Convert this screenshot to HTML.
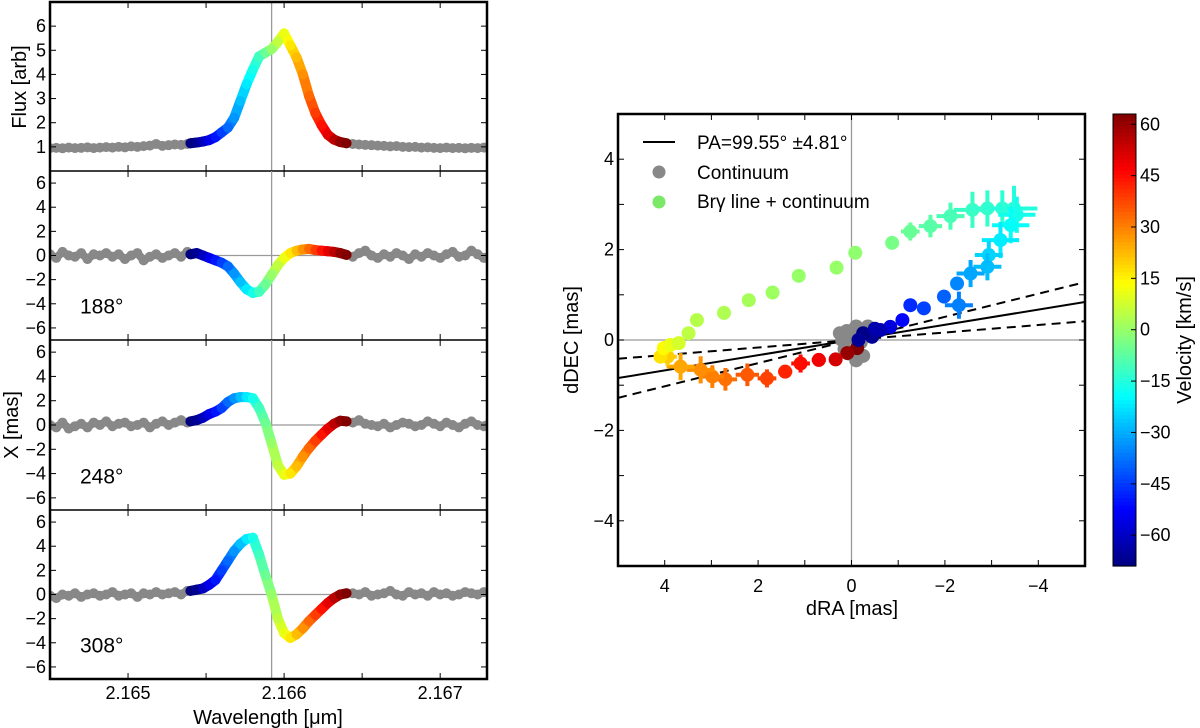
<!DOCTYPE html>
<html><head><meta charset="utf-8">
<style>
html,body{margin:0;padding:0;background:#fff;}
svg{display:block;font-family:"Liberation Sans",Arial,sans-serif;}
</style></head>
<body>
<svg id="fig" width="1200" height="728" viewBox="0 0 1200 728" xmlns="http://www.w3.org/2000/svg">
<g id="marks"></g>
</svg>
<script>
// ---------- data ----------
const lineStart = 2.16540, lineStep = 0.00004;
const fluxLine = [1.15,1.18,1.22,1.28,1.4,1.6,1.8,2.2,2.9,3.6,4.2,4.75,4.9,5.05,5.35,5.7,5.2,4.7,4.0,3.1,2.4,1.9,1.5,1.3,1.2,1.15];
const x188Line = [0.1,0.2,0.0,-0.2,-0.4,-0.6,-0.9,-1.5,-2.2,-2.8,-3.1,-3.0,-2.4,-1.6,-0.8,-0.2,0.2,0.4,0.5,0.55,0.45,0.4,0.35,0.3,0.2,0.05];
const x248Line = [0.3,0.4,0.6,0.9,1.1,1.4,1.9,2.2,2.3,2.3,2.2,1.4,0.2,-1.5,-3.3,-4.1,-4.0,-3.4,-2.6,-1.9,-1.3,-0.8,-0.3,0.1,0.35,0.3];
const x308Line = [0.3,0.4,0.5,0.8,1.2,2.0,2.8,3.6,4.2,4.6,4.7,3.3,1.6,0.0,-2.0,-3.2,-3.6,-3.3,-2.8,-2.2,-1.7,-1.2,-0.7,-0.3,0.0,0.1];
const contLeftStart = 2.16450, contRightStart = 2.16644;
const fluxContL = [0.95,0.96,0.94,0.97,0.95,0.96,0.98,0.95,0.97,0.99,0.97,1.0,0.98,1.02,1.0,1.03,1.05,1.12,1.04,1.07,1.1,1.08,1.12];
const fluxContR = [1.12,1.1,1.08,1.07,1.05,1.04,1.02,1.03,1.0,0.99,1.0,0.97,0.98,0.96,0.95,0.97,0.95,0.96,0.94,0.96,0.95,0.97,0.96];
const x188ContL = [0.1,-0.2,0.3,0.0,-0.1,0.2,-0.3,0.1,0.0,0.2,-0.1,0.1,-0.3,0.0,0.2,-0.4,-0.1,0.1,-0.2,0.0,0.2,-0.1,0.3];
const x188ContR = [-0.1,0.2,0.4,0.0,-0.2,0.1,-0.1,0.2,0.0,-0.3,0.1,-0.1,0.2,0.0,-0.2,0.1,0.3,-0.1,0.0,0.4,0.1,-0.2,0.0];
const x248ContL = [0.0,-0.2,0.2,-0.3,-0.1,0.1,-0.2,0.2,0.0,0.3,-0.1,0.1,0.2,-0.1,0.0,0.2,-0.2,0.1,0.3,0.0,0.2,0.4,0.2];
const x248ContR = [0.2,0.4,0.1,0.0,-0.1,0.1,-0.2,0.0,0.2,0.1,-0.1,0.0,0.3,0.1,-0.1,0.2,0.0,-0.2,0.1,0.3,0.0,-0.1,0.2];
const x308ContL = [-0.1,-0.3,0.0,-0.1,0.1,-0.2,0.0,0.1,-0.1,0.0,0.2,-0.1,0.0,0.1,-0.2,0.1,0.0,0.2,0.0,0.1,0.2,0.0,0.3];
const x308ContR = [0.1,0.0,0.2,-0.1,0.0,0.1,0.3,0.0,-0.1,0.2,0.0,0.1,-0.1,0.2,0.0,0.1,-0.1,0.0,0.2,0.1,0.0,0.2,0.1];
const panelLabels = ["188\u00b0","248\u00b0","308\u00b0"];
const wlTicks = [2.165,2.166,2.167];
// right panel
const spRA  = [-0.12,0.09,0.34,0.70,1.09,1.42,1.81,2.23,2.70,2.98,3.23,3.66,3.94,4.09,4.02,3.88,3.70,3.49,3.31,2.73,2.20,1.69,1.13,0.32,-0.08,-0.87,-1.26,-1.69,-2.12,-2.59,-2.91,-3.23,-3.48,-3.54,-3.41,-3.19,-2.94,-2.91,-2.55,-2.26,-1.98,-2.30,-1.55,-1.26,-1.09,-0.83,-0.62,-0.44,-0.25,-0.5,-0.15];
const spDEC = [-0.18,-0.29,-0.43,-0.44,-0.52,-0.70,-0.85,-0.77,-0.87,-0.81,-0.66,-0.59,-0.37,-0.37,-0.18,-0.11,-0.07,0.15,0.44,0.60,0.88,1.05,1.42,1.60,1.93,2.15,2.40,2.52,2.74,2.88,2.91,2.91,2.91,2.77,2.54,2.21,1.88,1.62,1.47,1.25,0.96,0.77,0.70,0.77,0.44,0.29,0.22,0.07,0.15,0.25,0.0];
const spVel = [64,60,52,48,45,42,38,35,32,30,28,25,20,17,14,11,8,5,4,3,2,1,0,0,-1,-4,-6,-8,-10,-12,-13,-14,-15,-17,-19,-22,-25,-28,-31,-35,-40,-36,-44,-47,-52,-57,-62,-66,-68,-63,-66];
const spErr = [0,0,0,0.15,0.2,0.15,0.2,0.25,0.25,0.25,0.3,0.3,0.2,0,0,0,0,0,0,0,0,0,0,0,0,0,0.2,0.25,0.3,0.4,0.4,0.4,0.5,0.4,0.4,0.4,0.3,0.3,0.3,0,0,0.3,0,0,0,0,0,0,0,0,0];
const contRA  = [0.1,-0.1,-0.3,0.0,0.2,-0.2,-0.4,0.05,-0.1,0.15,-0.25,-0.35,0.25];
const contDEC = [0.2,0.3,0.25,0.05,0.0,-0.05,0.1,-0.3,-0.45,-0.2,-0.35,0.3,0.15];
const paAngles = [99.55,94.74,104.36];
const raTicks = [4,2,0,-2,-4];
const decTicks = [4,2,0,-2,-4];
const cbTicks = [60,45,30,15,0,-15,-30,-45,-60];
const vMin=-69, vMax=63;

// ---------- helpers ----------
const NS="http://www.w3.org/2000/svg";
const root=document.getElementById('marks');
function el(tag,attrs,parent){const e=document.createElementNS(NS,tag);for(const k in attrs)e.setAttribute(k,attrs[k]);(parent||root).appendChild(e);return e;}
function jet(t){t=Math.max(0,Math.min(1,t));
  const r=Math.max(0,Math.min(1,Math.min(4*t-1.5,-4*t+4.5)));
  const g=Math.max(0,Math.min(1,Math.min(4*t-0.5,-4*t+3.5)));
  const b=Math.max(0,Math.min(1,Math.min(4*t+0.5,-4*t+2.5)));
  return `rgb(${Math.round(r*255)},${Math.round(g*255)},${Math.round(b*255)})`;}
const velOf = wl => (wl-2.16592)/2.16592*299792;
const velColor = v => jet((v-vMin)/(vMax-vMin));

// left axes
const LX0=50, LX1=487, WL0=2.1645, WL1=2.1673;
const xw = wl => LX0+(wl-WL0)/(WL1-WL0)*(LX1-LX0);
const panels=[
 {top:2,bot:171,min:0,max:7,line:fluxLine,cl:fluxContL,cr:fluxContR,ticks:[1,2,3,4,5,6],name:'flux-panel'},
 {top:171,bot:340,min:-7,max:7,line:x188Line,cl:x188ContL,cr:x188ContR,ticks:[-6,-4,-2,0,2,4,6],name:'x188-panel'},
 {top:340,bot:510,min:-7,max:7,line:x248Line,cl:x248ContL,cr:x248ContR,ticks:[-6,-4,-2,0,2,4,6],name:'x248-panel'},
 {top:510,bot:679,min:-7,max:7,line:x308Line,cl:x308ContL,cr:x308ContR,ticks:[-6,-4,-2,0,2,4,6],name:'x308-panel'}];

panels.forEach((p,pi)=>{
  const g=el('g',{});
  
  
  const y = v => p.bot-(v-p.min)/(p.max-p.min)*(p.bot-p.top);
  const clip=el('clipPath',{id:'clip'+pi},g);
  el('rect',{x:LX0,y:p.top,width:LX1-LX0,height:p.bot-p.top},clip);
  const inner=el('g',{'clip-path':`url(#clip${pi})`},g);
  el('line',{x1:xw(2.16592),x2:xw(2.16592),y1:p.top,y2:p.bot,stroke:'#999','stroke-width':1.3},inner);
  if(pi>0) el('line',{x1:LX0,x2:LX1,y1:y(0),y2:y(0),stroke:'#999','stroke-width':1.3},inner);
  // continuum band
  const ptsL=p.cl.map((v,i)=>xw(contLeftStart+i*lineStep)+','+y(v)).join(' ');
  const ptsR=p.cr.map((v,i)=>xw(contRightStart+i*lineStep)+','+y(v)).join(' ');
  el('polyline',{points:ptsL,fill:'none',stroke:'#888','stroke-width':8,'stroke-linejoin':'round','stroke-linecap':'round'},inner);
  el('polyline',{points:ptsR,fill:'none',stroke:'#888','stroke-width':8,'stroke-linejoin':'round','stroke-linecap':'round'},inner);
  p.cl.forEach((v,i)=>{const c=el('circle',{cx:xw(contLeftStart+i*lineStep),cy:y(v),r:5,fill:'#888'},inner);
    
    });
  p.cr.forEach((v,i)=>{const c=el('circle',{cx:xw(contRightStart+i*lineStep),cy:y(v),r:5,fill:'#888'},inner);
    
    });
  for(let i=0;i<p.line.length-1;i++){
    const w1=lineStart+i*lineStep,w2=w1+lineStep;
    el('line',{x1:xw(w1),y1:y(p.line[i]),x2:xw(w2),y2:y(p.line[i+1]),stroke:velColor(velOf(w1+lineStep/2)),'stroke-width':10,'stroke-linecap':'round'},inner);
  }
  p.line.forEach((v,i)=>{const w=lineStart+i*lineStep;
    const c=el('circle',{cx:xw(w),cy:y(v),r:5,fill:velColor(velOf(w))},inner);
    
    });
  p.ticks.forEach(t=>{
    el('line',{x1:LX0,x2:LX0+6,y1:y(t),y2:y(t),stroke:'#000','stroke-width':1},g);
    el('line',{x1:LX1-6,x2:LX1,y1:y(t),y2:y(t),stroke:'#000','stroke-width':1},g);
    const tx=el('text',{x:LX0-4,y:y(t)+6,'font-size':18,'text-anchor':'end'},g);
    tx.textContent=(t<0?'\u2212':'')+Math.abs(t);
    
    
  });
  for(let w=2.1645;w<=2.1673;w+=0.0005){
    if(w<WL0+1e-7) continue;
    el('line',{x1:xw(w),x2:xw(w),y1:p.bot,y2:p.bot-6,stroke:'#000','stroke-width':1},g);
    el('line',{x1:xw(w),x2:xw(w),y1:p.top,y2:p.top+6,stroke:'#000','stroke-width':1},g);
  }
  if(pi>0){const t=el('text',{x:80,y:y(-4.8),'font-size':21},g);t.textContent=panelLabels[pi-1];
    
    }
  el('line',{x1:LX0,x2:LX1,y1:p.bot,y2:p.bot,stroke:'#000','stroke-width':1.5},g);
});
el('rect',{x:LX0,y:2,width:LX1-LX0,height:677,fill:'none',stroke:'#000','stroke-width':2.5});
wlTicks.forEach(w=>{const t=el('text',{x:xw(w),y:699,'font-size':18,'text-anchor':'middle'});t.textContent=w.toFixed(3);
  
  });
let t=el('text',{x:268,y:724,'font-size':20,'text-anchor':'middle'});t.textContent='Wavelength [\u03bcm]';


t=el('text',{x:0,y:0,'font-size':20,'text-anchor':'middle',transform:'translate(26,87) rotate(-90)'});t.textContent='Flux [arb]';


t=el('text',{x:0,y:0,'font-size':20,'text-anchor':'middle',transform:'translate(18,425) rotate(-90)'});t.textContent='X [mas]';



// ---------- right panel ----------
const RX0=618,RX1=1085,RY0=114,RY1=566;
const xr = v => RX0+(5-v)/10*(RX1-RX0);
const yr = v => RY0+(5-v)/10*(RY1-RY0);
const rg=el('g',{});


const rc=el('clipPath',{id:'rclip'},rg);
el('rect',{x:RX0,y:RY0,width:RX1-RX0,height:RY1-RY0},rc);
const ri=el('g',{'clip-path':'url(#rclip)'},rg);
el('line',{x1:xr(0),x2:xr(0),y1:RY0,y2:RY1,stroke:'#999','stroke-width':1.3},ri);
el('line',{x1:RX0,x2:RX1,y1:yr(0),y2:yr(0),stroke:'#999','stroke-width':1.3},ri);
paAngles.forEach((pa,i)=>{
  const s=-Math.tan((pa-90)*Math.PI/180);
  const l=el('line',{x1:xr(5),y1:yr(5*s),x2:xr(-5),y2:yr(-5*s),stroke:'#000','stroke-width':2,'stroke-dasharray':i?'9,6':'none'},ri);
  
  
});
contRA.forEach((v,i)=>{const c=el('circle',{cx:xr(v),cy:yr(contDEC[i]),r:7,fill:'#888'},ri);
  
  });
spRA.forEach((v,i)=>{
  const col=velColor(spVel[i]), cx=xr(v), cy=yr(spDEC[i]), e=spErr[i];
  if(e>0){
    el('line',{x1:xr(v+e),x2:xr(v-e),y1:cy,y2:cy,stroke:col,'stroke-width':4},ri);
    el('line',{x1:cx,x2:cx,y1:yr(spDEC[i]+e),y2:yr(spDEC[i]-e),stroke:col,'stroke-width':4},ri);
  }
  const c=el('circle',{cx:cx,cy:cy,r:7,fill:col},ri);
  
  
});
el('rect',{x:RX0,y:RY0,width:RX1-RX0,height:RY1-RY0,fill:'none',stroke:'#000','stroke-width':2.5},rg);
for(let v=-4;v<=4;v++){
  el('line',{x1:xr(v),x2:xr(v),y1:RY1,y2:RY1-6,stroke:'#000'},rg);
  el('line',{x1:xr(v),x2:xr(v),y1:RY0,y2:RY0+6,stroke:'#000'},rg);
  el('line',{x1:RX0,x2:RX0+6,y1:yr(v),y2:yr(v),stroke:'#000'},rg);
  el('line',{x1:RX1-6,x2:RX1,y1:yr(v),y2:yr(v),stroke:'#000'},rg);
}
raTicks.forEach(v=>{const tt=el('text',{x:xr(v),y:592,'font-size':18,'text-anchor':'middle'},rg);tt.textContent=(v<0?'\u2212':'')+Math.abs(v);
  
  });
decTicks.forEach(v=>{const tt=el('text',{x:RX0-4,y:yr(v)+6,'font-size':18,'text-anchor':'end'},rg);tt.textContent=(v<0?'\u2212':'')+Math.abs(v);
  
  });
t=el('text',{x:852,y:615,'font-size':20,'text-anchor':'middle'},rg);t.textContent='dRA [mas]';


t=el('text',{x:0,y:0,'font-size':20,'text-anchor':'middle',transform:'translate(578,340) rotate(-90)'},rg);t.textContent='dDEC [mas]';


const lg=el('g',{},rg);


el('line',{x1:643,x2:675,y1:142,y2:142,stroke:'#000','stroke-width':2},lg);
t=el('text',{x:697,y:149,'font-size':19},lg);t.textContent='PA=99.55\u00b0 \u00b14.81\u00b0';


el('circle',{cx:659,cy:172,r:6.5,fill:'#888'},lg);
t=el('text',{x:697,y:179,'font-size':19},lg);t.textContent='Continuum';


el('circle',{cx:659,cy:202,r:6.5,fill:'#7be868'},lg);
t=el('text',{x:697,y:208,'font-size':19},lg);t.textContent='Br\u03b3 line + continuum';



// colorbar
const CX=1113, CW=23;
const yc = v => RY0+(vMax-v)/(vMax-vMin)*(RY1-RY0);
const cb=el('g',{});


for(let k=0;k<120;k++){
  const v1=vMax-(vMax-vMin)*k/120, v2=vMax-(vMax-vMin)*(k+1)/120;
  el('rect',{x:CX,y:yc(v1),width:CW,height:yc(v2)-yc(v1)+0.6,fill:velColor((v1+v2)/2)},cb);
}
el('rect',{x:CX,y:RY0,width:CW,height:RY1-RY0,fill:'none',stroke:'#000','stroke-width':1},cb);
cbTicks.forEach(v=>{
  el('line',{x1:CX+CW-5,x2:CX+CW,y1:yc(v),y2:yc(v),stroke:'#000'},cb);
  const tt=el('text',{x:CX+CW+4,y:yc(v)+6,'font-size':18},cb);tt.textContent=(v<0?'\u2212':'')+Math.abs(v);
  
  
});
t=el('text',{x:0,y:0,'font-size':20,'text-anchor':'middle',transform:'translate(1191,340) rotate(-90)'},cb);t.textContent='Velocity [km/s]';


</script>
</body></html>
